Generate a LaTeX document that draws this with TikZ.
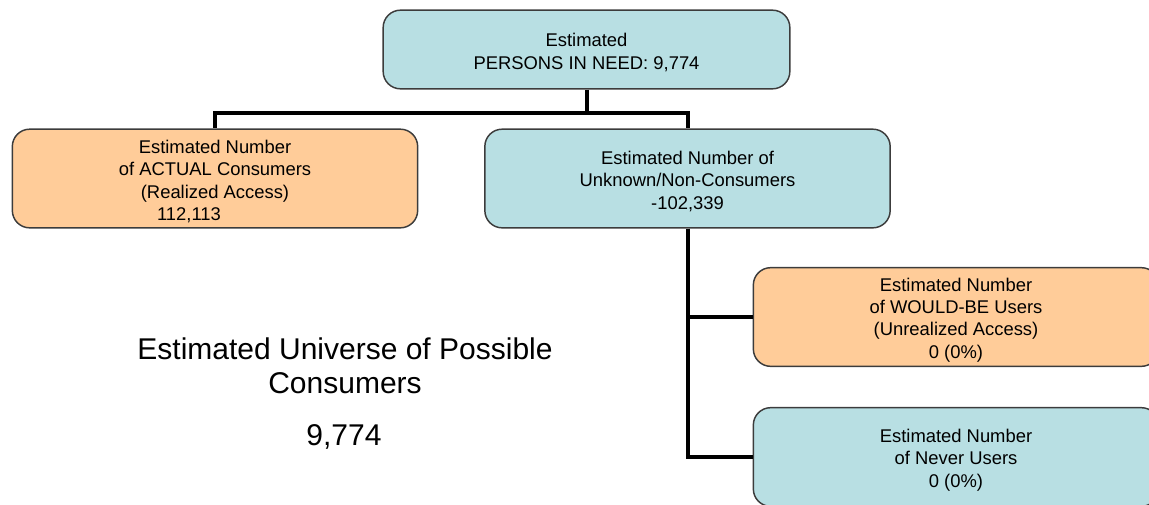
\documentclass[tikz,border=0pt]{standalone}
\usepackage{fontspec}
\setmainfont{Liberation Sans}
\definecolor{peach}{RGB}{255,204,153}
\definecolor{paleblue}{RGB}{184,223,227}
\definecolor{rim}{RGB}{60,60,60}
\newcommand{\padtop}{\rule{0pt}{14.5pt}}
\tikzset{
  box/.style={draw=rim,line width=1.1pt,rounded corners=13pt,align=center,
    minimum width=304pt,minimum height=74pt,inner sep=2pt,
    font=\fontsize{13.8}{16.8}\selectfont},
  link/.style={line width=3pt}
}
\begin{document}
\begin{tikzpicture}[x=0.75pt,y=-0.75pt]

        \useasboundingbox (0,0) rectangle (1149,504);
        \clip (0,0) rectangle (1149,504);

        \begin{scope}[every node/.style={box}]
          \node[fill=paleblue,minimum width=305pt,minimum height=59pt] (need) at (586.5,49.5)
            {\padtop Estimated\\PERSONS IN NEED: 9,774};
          \node[fill=peach] (actual)  at (215,178.5)
            {\padtop Estimated Number\\of ACTUAL Consumers\\(Realized Access)\\112,113\hspace*{39pt}};
          \node[fill=paleblue] (unknown) at (687.5,178.5)
            {\padtop Estimated Number of\\Unknown/Non-Consumers\\-102,339};
          \node[fill=peach] (wouldbe) at (956,317)
            {\padtop Estimated Number\\of WOULD-BE Users\\(Unrealized Access)\\0 (0\%)};
          \node[fill=paleblue] (never) at (956,457)
            {\padtop Estimated Number\\of Never Users\\0 (0\%)};
        \end{scope}

        \coordinate (bus) at (586.5,113);

        \begin{scope}[every path/.style={link}]
          \draw (need.south) -- (bus) -| (actual.north);
          \draw (bus) -| (unknown.north);
          \draw (unknown.south) |- (wouldbe.west);
          \draw (unknown.south) |- (never.west);
        \end{scope}

        \begin{scope}[every node/.style={align=center,font=\fontsize{22.5}{25.5}\selectfont}]
          \node (universe) at (345,366) {Estimated Universe of Possible\\Consumers};
          \node (total)    at (344,437) {9,774};
        \end{scope}

      \end{tikzpicture}
\end{document}
